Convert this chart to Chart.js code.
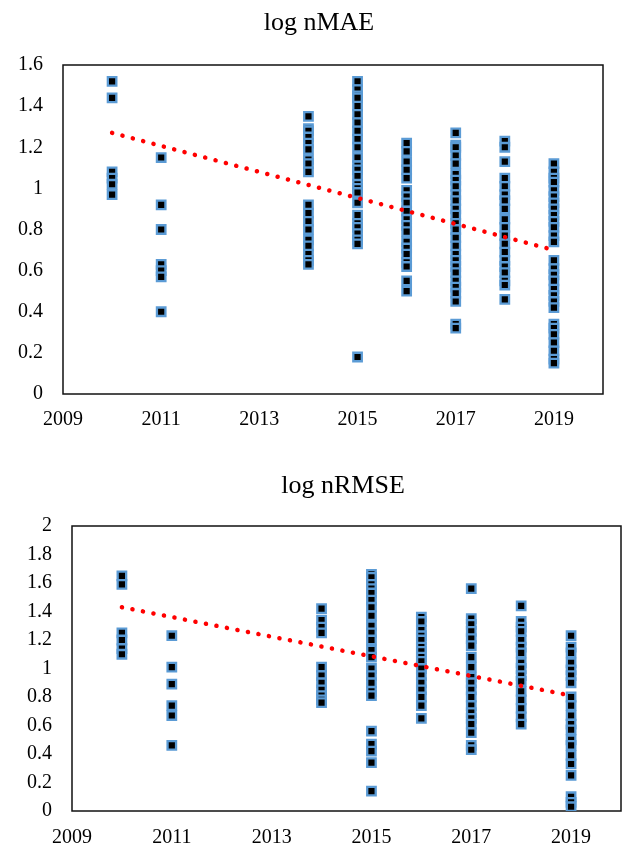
<!DOCTYPE html>
<html>
<head>
<meta charset="utf-8">
<script src="https://cdn.jsdelivr.net/npm/chart.js@4"></script>
<style>
  body { margin: 0; background: #fff; overflow: hidden; }
  #wrap { position: relative; width: 622px; height: 849px; }
  .box { position: absolute; left: 0; }
  .title {
    position: absolute;
    font-family: "Liberation Serif", "Times New Roman", serif;
    font-size: 26px;
    line-height: 1;
    color: #000;
    white-space: nowrap;
    transform: translate(-50%, -50%);
  }
</style>
</head>
<body>
<div id="wrap">
  <div class="box" style="top:0"><canvas id="maeChart" width="622" height="440"></canvas></div>
  <div class="box" style="top:448px"><canvas id="rmseChart" width="622" height="401"></canvas></div>
  <div class="title" style="left:319px; top:22px">log nMAE</div>
  <div class="title" style="left:343px; top:485px">log nRMSE</div>
</div>
<script>
// years that have points
let years = [2010, 2011, 2014, 2015, 2016, 2017, 2018, 2019];

// log nMAE values, one array per year
let nmae2010 = [1.52, 1.44, 1.08, 1.05, 1.02, 0.97];
let nmae2011 = [1.15, 0.92, 0.80, 0.63, 0.60, 0.57, 0.40];
let nmae2014 = [1.35, 1.29, 1.28, 1.25, 1.22, 1.19, 1.14, 1.12, 1.08, 0.92, 0.88, 0.84, 0.80, 0.75, 0.72, 0.68, 0.65, 0.63];
let nmae2015 = [1.52, 1.48, 1.45, 1.44, 1.40, 1.36, 1.32, 1.28, 1.24, 1.20, 1.15, 1.11, 1.09, 1.06, 1.02, 1.00, 0.98, 0.93,
                0.87, 0.83, 0.81, 0.78, 0.75, 0.73, 0.18];
let nmae2016 = [1.22, 1.18, 1.13, 1.09, 1.05, 0.99, 0.96, 0.93, 0.89, 0.85, 0.82, 0.79, 0.74, 0.71, 0.68, 0.64, 0.62, 0.55, 0.50];
let nmae2017 = [1.27, 1.21, 1.20, 1.16, 1.12, 1.07, 1.04, 1.01, 0.97, 0.94, 0.90, 0.87, 0.83, 0.80, 0.76, 0.72, 0.68, 0.65,
                0.62, 0.59, 0.55, 0.52, 0.49, 0.45, 0.34, 0.32];
let nmae2018 = [1.23, 1.20, 1.13, 1.05, 1.01, 0.97, 0.94, 0.90, 0.85, 0.81, 0.77, 0.73, 0.69, 0.65, 0.62, 0.59, 0.55, 0.53, 0.46];
let nmae2019 = [1.12, 1.08, 1.05, 1.03, 0.99, 0.96, 0.93, 0.90, 0.87, 0.84, 0.81, 0.77, 0.74,
                0.65, 0.61, 0.58, 0.55, 0.51, 0.48, 0.45, 0.42, 0.34, 0.32, 0.29, 0.25, 0.21, 0.17, 0.15];

// log nRMSE values, one array per year
let nrmse2010 = [1.65, 1.59, 1.25, 1.20, 1.14, 1.10];
let nrmse2011 = [1.23, 1.01, 0.89, 0.74, 0.67, 0.46];
let nrmse2014 = [1.42, 1.34, 1.29, 1.25, 1.01, 0.95, 0.90, 0.85, 0.81, 0.78, 0.76];
let nrmse2015 = [1.66, 1.64, 1.59, 1.56, 1.53, 1.48, 1.43, 1.37, 1.30, 1.25, 1.20, 1.13, 1.08, 1.00, 0.95, 0.90, 0.84, 0.81,
                 0.56, 0.47, 0.42, 0.34, 0.14];
let nrmse2016 = [1.36, 1.33, 1.27, 1.23, 1.20, 1.15, 1.12, 1.08, 1.05, 1.00, 0.95, 0.90, 0.85, 0.80, 0.74, 0.65];
let nrmse2017 = [1.56, 1.35, 1.31, 1.26, 1.21, 1.16, 1.08, 1.01, 0.94, 0.90, 0.85, 0.80, 0.74, 0.69, 0.65, 0.61, 0.55, 0.46, 0.43];
let nrmse2018 = [1.44, 1.33, 1.29, 1.26, 1.20, 1.15, 1.11, 1.04, 1.00, 0.95, 0.91, 0.84, 0.78, 0.72, 0.66, 0.61];
let nrmse2019 = [1.23, 1.15, 1.11, 1.04, 0.99, 0.95, 0.90, 0.80, 0.74, 0.67, 0.61, 0.57, 0.50, 0.46, 0.39, 0.33, 0.25,
                 0.10, 0.06, 0.03];

// trend line ends (2010 and 2019)
let trendYears = [2010, 2019];
let nmaeTrend = [1.27, 0.70];
let nrmseTrend = [1.43, 0.81];

// axis settings
let xTicks = [2009, 2011, 2013, 2015, 2017, 2019];
let nmaeMax = 1.6;
let nrmseMax = 2;

let nmaeByYear = [nmae2010, nmae2011, nmae2014, nmae2015, nmae2016, nmae2017, nmae2018, nmae2019];
let nrmseByYear = [nrmse2010, nrmse2011, nrmse2014, nrmse2015, nrmse2016, nrmse2017, nrmse2018, nrmse2019];

const serif = '"Liberation Serif", "Times New Roman", serif';

function toPoints(groups) {
    let pts = [];
    groups.forEach((vals, i) => vals.forEach(v => pts.push({ x: years[i], y: v })));
    return pts;
}

// frame round the plot area
const frame = {
    id: 'frame',
    beforeDatasetsDraw(chart) {
        const a = chart.chartArea;
        const ctx = chart.ctx;
        ctx.save();
        ctx.strokeStyle = '#111';
        ctx.lineWidth = 1.5;
        ctx.strokeRect(a.left, a.top, a.right - a.left, a.bottom - a.top);
        ctx.restore();
    }
};

function makeChart(id, groups, trend, yMax, lay) {
    return new Chart(document.getElementById(id), {
        type: 'scatter',
        data: {
            datasets: [
                {
                    data: trendYears.map((x, i) => ({ x: x, y: trend[i] })),
                    showLine: true,
                    borderColor: '#ff0000',
                    borderWidth: 4.5,
                    borderDash: [0.1, 10.6],
                    borderCapStyle: 'round',
                    pointRadius: 0
                },
                {
                    data: toPoints(groups),
                    pointStyle: 'rect',
                    pointRadius: 6,
                    pointBackgroundColor: '#000',
                    pointBorderColor: '#5b9bd5',
                    pointBorderWidth: 2.3
                }
            ]
        },
        options: {
            responsive: false,
            animation: false,
            layout: { autoPadding: false, padding: { left: 0, right: lay.right, top: lay.top, bottom: 0 } },
            plugins: {
                legend: { display: false },
                tooltip: { enabled: false },
                title: { display: false }
            },
            scales: {
                x: {
                    type: 'linear',
                    min: 2009,
                    max: 2020,
                    afterFit: s => { s.height = lay.xHeight; },
                    afterBuildTicks: s => { s.ticks = xTicks.map(v => ({ value: v })); },
                    grid: { display: false, drawTicks: false },
                    border: { display: false },
                    ticks: {
                        color: '#000',
                        padding: lay.xPad,
                        maxRotation: 0,
                        font: { family: serif, size: 20 },
                        callback: v => String(v)
                    }
                },
                y: {
                    min: 0,
                    max: yMax,
                    afterFit: s => { s.width = lay.yWidth; },
                    grid: { display: false, drawTicks: false },
                    border: { display: false },
                    ticks: {
                        stepSize: 0.2,
                        color: '#000',
                        padding: 20,
                        font: { family: serif, size: 20 },
                        callback: v => String(+v.toFixed(1))
                    }
                }
            }
        },
        plugins: [frame]
    });
}

makeChart('maeChart', nmaeByYear, nmaeTrend, nmaeMax,
    { right: 19, top: 65, xHeight: 46, xPad: 14, yWidth: 63 });
makeChart('rmseChart', nrmseByYear, nrmseTrend, nrmseMax,
    { right: 1, top: 78, xHeight: 38, xPad: 15, yWidth: 72 });
</script>
</body>
</html>
